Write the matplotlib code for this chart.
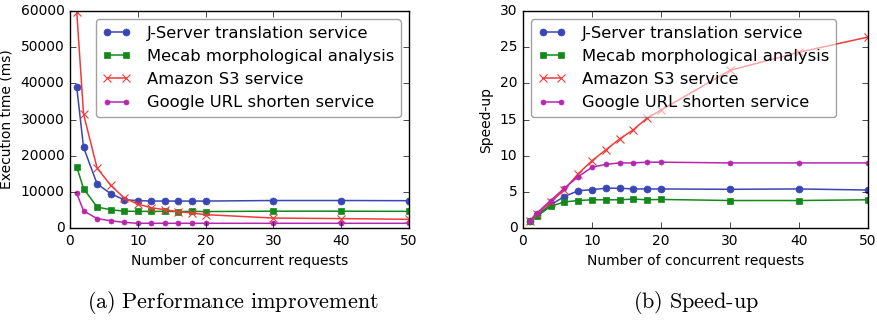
import matplotlib
matplotlib.use('Agg')
import matplotlib.pyplot as plt

plt.style.use('classic')
plt.rcParams['mathtext.fontset'] = 'cm'

requests = [1, 2, 4, 6, 8, 10, 12, 14, 16, 18, 20, 30, 40, 50]

# execution time (ms)
jserverTime = [38900, 22300, 12200, 9500, 7800, 7600, 7450, 7450, 7450, 7450, 7450, 7600, 7600, 7550]
mecabTime = [16900, 10900, 5800, 5050, 4650, 4600, 4600, 4600, 4550, 4600, 4550, 4650, 4650, 4600]
amazonTime = [59800, 31500, 16600, 11800, 8300, 6600, 5600, 5050, 4500, 4150, 3700, 2750, 2600, 2400]
googleTime = [9550, 4750, 2600, 2000, 1550, 1300, 1300, 1300, 1300, 1300, 1300, 1300, 1300, 1300]

# speed-up
jserverSpeed = [1.0, 1.75, 3.2, 4.35, 5.15, 5.3, 5.5, 5.5, 5.4, 5.4, 5.4, 5.35, 5.4, 5.25]
mecabSpeed = [1.0, 1.6, 3.0, 3.6, 3.8, 3.9, 3.9, 3.9, 4.0, 3.9, 3.95, 3.8, 3.8, 3.9]
amazonSpeed = [1.0, 1.9, 3.55, 5.3, 7.5, 9.3, 10.8, 12.3, 13.6, 15.2, 16.3, 21.8, 24.3, 26.4]
googleSpeed = [1.0, 2.05, 3.8, 5.5, 7.1, 8.4, 8.8, 9.0, 9.0, 9.1, 9.1, 9.0, 9.0, 9.0]

labels = ['J-Server translation service', 'Mecab morphological analysis',
          'Amazon S3 service', 'Google URL shorten service']

# muted versions of the old b/g/r/m cycle
colors = ['#3847b4', '#12891a', '#f03a3a', '#b626b0']

def drawSeries(ax, series):
    styles = [dict(marker='o', markersize=5),
              dict(marker='s', markersize=4.6),
              dict(marker='x', markersize=5.5, markeredgewidth=0.8),
              dict(marker='o', markersize=3.6)]
    for vals, lab, st, c in zip(series, labels, styles, colors):
        ax.plot(requests, vals, label=lab, linewidth=1.1, color=c,
                markeredgecolor=c, markerfacecolor=c, **st)
    ax.tick_params(labelsize=10)
    ax.set_xlabel('Number of concurrent requests', fontsize=10)

def addLegend(ax, where):
    leg = ax.legend(loc=where, fontsize=11.8, numpoints=2, fancybox=True,
                    handlelength=1.7, handletextpad=1.0, framealpha=0.55)
    leg.get_frame().set_edgecolor('#555555')

fig = plt.figure(figsize=(8.77, 3.2), dpi=100, facecolor='white')

ax1 = fig.add_axes([0.0798, 0.2875, 0.3865, 0.678])
drawSeries(ax1, [jserverTime, mecabTime, amazonTime, googleTime])
ax1.set_xlim(0, 50)
ax1.set_ylim(0, 60000)
ax1.set_ylabel('Execution time (ms)', fontsize=10)
addLegend(ax1, 'upper right')

ax2 = fig.add_axes([0.5963, 0.2875, 0.3934, 0.678])
drawSeries(ax2, [jserverSpeed, mecabSpeed, amazonSpeed, googleSpeed])
ax2.set_xlim(0, 50)
ax2.set_ylim(0, 30)
ax2.set_ylabel('Speed-up', fontsize=10)
addLegend(ax2, 'upper left')

fig.text(0.266, 0.056, r'$\mathrm{(a)\ Performance\ improvement}$', fontsize=16, ha='center', va='center')
fig.text(0.794, 0.056, r'$\mathrm{(b)\ Speed\text{-}up}$', fontsize=16, ha='center', va='center')

fig.savefig('out.png', dpi=100, facecolor='white')
